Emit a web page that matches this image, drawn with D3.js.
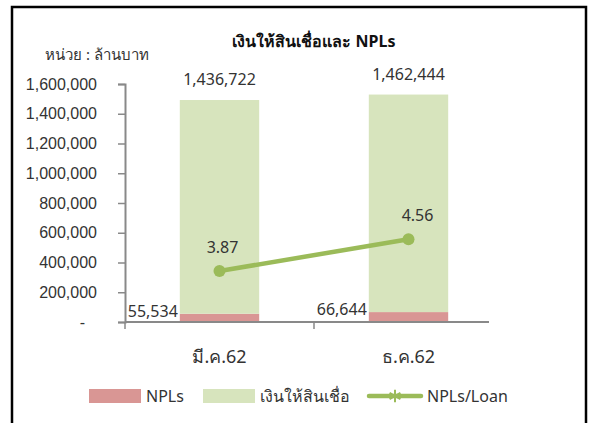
<!DOCTYPE html>
<html>
<head>
<meta charset="utf-8">
<script src="https://cdn.jsdelivr.net/npm/d3@7"></script>
<style>
    body { margin: 0; background: #fff; }
    svg { font-family: "Noto Sans", "DejaVu Sans", sans-serif; }
</style>
</head>
<body>
<main></main>
<script>

//Datos del gráfico
const categorias = ['มี.ค.62', 'ธ.ค.62'];
const npls = [55534, 66644];
const prestamos = [1436722, 1462444];
const ratioNpl = [3.87, 4.56];
const ticksY = [0, 200000, 400000, 600000, 800000, 1000000, 1200000, 1400000, 1600000];

const formatoMiles = d3.format(',');

//Tamaño
const [w, h] = [590, 423];
const [x0, x1] = [125, 503];        //Ancho del área de dibujo
const [yBase, yTop] = [322, 84];    //Alto del área de dibujo

var svg = d3.select('main')
    .append('svg')
    .attr('width', w)
    .attr('height', h);

//Borde del gráfico
svg.append('rect')
    .attr('x', 12)
    .attr('y', 7)
    .attr('width', 574)
    .attr('height', h)
    .attr('fill', '#fff')
    .attr('stroke', '#000')
    .attr('stroke-width', 2.5);

//Escalas
const xScale = d3.scaleBand()
    .domain(categorias)
    .range([x0, x1])
    .paddingInner(0.58)
    .paddingOuter(0.29);

const yScale = d3.scaleLinear()
    .domain([0, 1600000])
    .range([yBase, yTop]);

//Eje secundario (oculto) para NPLs/Loan
const y2Scale = d3.scaleLinear()
    .domain([2.76, 7.94])
    .range([yBase, yTop]);

//Eje Y
const ejeY = d3.axisLeft(yScale)
    .tickValues(ticksY)
    .tickSize(7)
    .tickPadding(21)
    .tickFormat((d) => d === 0 ? '-' : formatoMiles(d));

const gY = svg.append('g')
    .attr('transform', 'translate(' + x0 + ',0)')
    .call(ejeY);

gY.select('.domain').attr('stroke', '#898989').attr('stroke-width', 2);
gY.selectAll('.tick line').attr('stroke', '#898989').attr('stroke-width', 1.5);
gY.selectAll('.tick text')
    .attr('fill', '#333')
    .style('font-size', '16px')
    .attr('dx', (d) => d === 0 ? -12 : 0);

//Barras apiladas
const pila = categorias.map((c, i) => ({ cat: c, npl: npls[i], loan: prestamos[i] }));

svg.selectAll('.npl')
    .data(pila)
    .enter()
    .append('rect')
    .attr('class', 'npl')
    .attr('x', (d) => xScale(d.cat))
    .attr('width', xScale.bandwidth())
    .attr('y', (d) => yScale(d.npl))
    .attr('height', (d) => yBase - yScale(d.npl))
    .attr('fill', '#d99694');

svg.selectAll('.loan')
    .data(pila)
    .enter()
    .append('rect')
    .attr('class', 'loan')
    .attr('x', (d) => xScale(d.cat))
    .attr('width', xScale.bandwidth())
    .attr('y', (d) => yScale(d.npl + d.loan))
    .attr('height', (d) => yScale(d.npl) - yScale(d.npl + d.loan))
    .attr('fill', '#d7e4bd');

//Eje X (la línea acaba antes del borde derecho)
svg.append('line')
    .attr('x1', x0)
    .attr('x2', x1 - 14)
    .attr('y1', yBase)
    .attr('y2', yBase)
    .attr('stroke', '#898989')
    .attr('stroke-width', 2);

svg.selectAll('.xtick')
    .data([0, 1])
    .enter()
    .append('line')
    .attr('class', 'xtick')
    .attr('x1', (d) => x0 + d * xScale.step())
    .attr('x2', (d) => x0 + d * xScale.step())
    .attr('y1', yBase)
    .attr('y2', yBase + 7)
    .attr('stroke', '#898989')
    .attr('stroke-width', 1.5);

svg.selectAll('.xlabel')
    .data(categorias)
    .enter()
    .append('text')
    .attr('class', 'xlabel')
    .attr('x', (d) => xScale(d) + xScale.bandwidth() / 2)
    .attr('y', 363)
    .attr('text-anchor', 'middle')
    .attr('fill', '#333')
    .style('font-size', '18px')
    .text((d) => d);

//Etiquetas de las barras
svg.selectAll('.lblLoan')
    .data(pila)
    .enter()
    .append('text')
    .attr('class', 'lblLoan')
    .attr('x', (d) => xScale(d.cat) + xScale.bandwidth() / 2)
    .attr('y', (d) => yScale(d.npl + d.loan) - 15)
    .attr('text-anchor', 'middle')
    .attr('fill', '#333')
    .style('font-size', '16px')
    .text((d) => formatoMiles(d.loan));

svg.selectAll('.lblNpl')
    .data(pila)
    .enter()
    .append('text')
    .attr('class', 'lblNpl')
    .attr('x', (d) => xScale(d.cat) - 2)
    .attr('y', (d) => yScale(d.npl) + 3)
    .attr('text-anchor', 'end')
    .attr('fill', '#333')
    .style('font-size', '16px')
    .text((d) => formatoMiles(d.npl));

//Línea NPLs/Loan
const linea = d3.line()
    .x((d, i) => xScale(categorias[i]) + xScale.bandwidth() / 2)
    .y((d) => y2Scale(d));

svg.append('path')
    .datum(ratioNpl)
    .attr('d', linea)
    .attr('fill', 'none')
    .attr('stroke', '#9bbb59')
    .attr('stroke-width', 4.5);

svg.selectAll('.punto')
    .data(ratioNpl)
    .enter()
    .append('circle')
    .attr('class', 'punto')
    .attr('cx', (d, i) => xScale(categorias[i]) + xScale.bandwidth() / 2)
    .attr('cy', (d) => y2Scale(d))
    .attr('r', 6)
    .attr('fill', '#9bbb59');

svg.selectAll('.lblRatio')
    .data(ratioNpl)
    .enter()
    .append('text')
    .attr('class', 'lblRatio')
    .attr('x', (d, i) => xScale(categorias[i]) + xScale.bandwidth() / 2 + 3 + i * 6)
    .attr('y', (d) => y2Scale(d) - 18)
    .attr('text-anchor', 'middle')
    .attr('fill', '#333')
    .style('font-size', '16px')
    .text((d) => d.toFixed(2));

//Títulos
svg.append('text')
    .attr('x', 314)
    .attr('y', 47)
    .attr('text-anchor', 'middle')
    .attr('font-weight', 'bold')
    .attr('fill', '#111')
    .style('font-size', '16px')
    .text('เงินให้สินเชื่อและ NPLs');

svg.append('text')
    .attr('x', 45)
    .attr('y', 60)
    .attr('fill', '#333')
    .style('font-size', '15px')
    .text('หน่วย : ล้านบาท');

//Leyenda
const yLey = 396;

var crearCuadro = (x, color, texto) => {
    svg.append('rect')
        .attr('x', x)
        .attr('y', yLey - 7)
        .attr('width', 52)
        .attr('height', 14)
        .attr('fill', color);

    svg.append('text')
        .attr('x', x + 57)
        .attr('y', yLey + 6)
        .attr('fill', '#333')
        .style('font-size', '16px')
        .text(texto);
};

crearCuadro(89, '#d99694', 'NPLs');
crearCuadro(203, '#d7e4bd', 'เงินให้สินเชื่อ');

svg.append('line')
    .attr('x1', 369)
    .attr('x2', 421)
    .attr('y1', yLey)
    .attr('y2', yLey)
    .attr('stroke', '#9bbb59')
    .attr('stroke-width', 4.5)
    .attr('stroke-linecap', 'round');

//Marcador en forma de asterisco
svg.append('path')
    .attr('d', d3.symbol(d3.symbolAsterisk, 110)())
    .attr('transform', 'translate(395,' + yLey + ')')
    .attr('stroke', '#9bbb59')
    .attr('stroke-width', 2);

svg.append('text')
    .attr('x', 427)
    .attr('y', yLey + 6)
    .attr('fill', '#333')
    .style('font-size', '16px')
    .text('NPLs/Loan');

</script>
</body>
</html>
